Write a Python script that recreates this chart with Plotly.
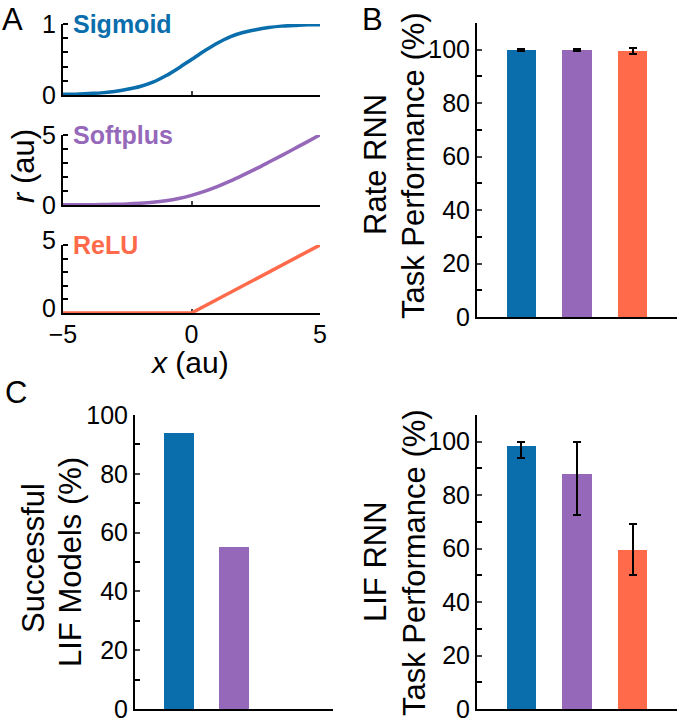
import plotly.graph_objects as go

# panel A: activation functions
x_act = [-5, -4.5, -4, -3.5, -3, -2.5, -2, -1.5, -1, -0.5, 0,
         0.5, 1, 1.5, 2, 2.5, 3, 3.5, 4, 4.5, 5]
sigmoid_r = [0.01, 0.01, 0.02, 0.03, 0.05, 0.08, 0.12, 0.18, 0.27, 0.38, 0.5,
             0.62, 0.73, 0.82, 0.88, 0.92, 0.95, 0.97, 0.98, 0.99, 0.99]
softplus_r = [0.01, 0.01, 0.02, 0.03, 0.05, 0.08, 0.13, 0.2, 0.31, 0.47, 0.69,
              0.97, 1.31, 1.7, 2.13, 2.58, 3.05, 3.53, 4.02, 4.51, 5.01]
relu_x = [-5, 0, 5]
relu_r = [0, 0, 5]

# panels B, C: bar data
models = ["Sigmoid", "Softplus", "ReLU"]
rate_perf = [99.9, 99.9, 99.5]
rate_err = [0.5, 0.5, 1.0]
lif_success = [94, 55, 0]
lif_perf = [98.5, 88.0, 59.6]
lif_err_up = [1.5, 12.0, 9.6]
lif_err_down = [4.6, 15.6, 9.4]

colors = ["#0A6EAC", "#9568BA", "#FF6A4A"]
FONT = "Arial, Liberation Sans, sans-serif"
W, H = 677, 726
TICK = 25
TITLE = 31


def dom_x(a, b):
    return [a / W, min(b / W, 1.0)]


def dom_y(top, bottom):
    return [1 - bottom / H, 1 - top / H]


fig = go.Figure()

line_panels = [
    ("", x_act, sigmoid_r, colors[0], "Sigmoid", [0, 1], (24, 95), "spline"),
    ("2", x_act, softplus_r, colors[1], "Softplus", [0, 5], (135, 205), "spline"),
    ("3", relu_x, relu_r, colors[2], "ReLU", [0, 5], (245, 313), "linear"),
]
for i, (ax, xs, ys, c, name, yr, (top, bot), shp) in enumerate(line_panels):
    fig.add_trace(go.Scatter(x=xs, y=ys, mode="lines", line=dict(color=c, width=3.5, shape=shp),
                             xaxis="x" + ax, yaxis="y" + ax, showlegend=False, cliponaxis=False))
    last = i == 2
    fig.update_layout(**{
        "xaxis" + ax: dict(domain=dom_x(63, 320), range=[-5, 5], anchor="y" + ax,
                           tickvals=[-5, 0, 5], ticks="inside", ticklen=4, tickwidth=2,
                           showticklabels=last, showline=True, linewidth=2, linecolor="black",
                           showgrid=False, zeroline=False, fixedrange=True, automargin=False,
                           layer="below traces", tickfont=dict(size=TICK), ticklabelstandoff=-2),
        "yaxis" + ax: dict(domain=dom_y(top, bot), range=yr, anchor="x" + ax,
                           tickvals=[yr[0], yr[1]], ticks="", showline=True, linewidth=2,
                           linecolor="black", showgrid=False, zeroline=False, automargin=False,
                           layer="below traces", tickfont=dict(size=TICK),
                           # lift the bottom panel's labels a little off the x tick labels
                           ticklabelshift=-5 if last else 0,
                           minor=dict(dtick=yr[1] / 5, ticks="inside", ticklen=5, tickwidth=2,
                                      tickcolor="black", showgrid=False)),
    })
    fig.add_annotation(xref="x" + ax + " domain", yref="y" + ax + " domain", x=0.03, y=1.0,
                       xanchor="left", yanchor="middle", text="<b>" + name + "</b>",
                       showarrow=False, font=dict(size=25, color=c, family=FONT))

bar_panels = [
    ("4", rate_perf, dict(type="data", array=rate_err, visible=True), [0, 110], dom_x(477, 677), dom_y(23, 317)),
    ("5", lif_success, None, [0, 100], dom_x(135, 333), dom_y(415, 709)),
    ("6", lif_perf, dict(type="data", array=lif_err_up, arrayminus=lif_err_down, visible=True),
     [0, 110], dom_x(477, 677), dom_y(415, 709)),
]
for ax, vals, err, yr, dx, dy in bar_panels:
    fig.add_trace(go.Bar(x=[1, 2, 3], y=vals, marker=dict(color=colors, line=dict(width=0)),
                         width=0.53, error_y=(dict(err, color="black", thickness=2, width=4) if err else None),
                         xaxis="x" + ax, yaxis="y" + ax, showlegend=False, hovertext=models))
    fig.update_layout(**{
        "xaxis" + ax: dict(domain=dx, range=[0.2, 3.8], anchor="y" + ax, showticklabels=False,
                           ticks="", showline=True, linewidth=2, linecolor="black",
                           showgrid=False, zeroline=False, automargin=False),
        "yaxis" + ax: dict(domain=dy, range=yr, anchor="x" + ax, tickvals=[0, 20, 40, 60, 80, 100],
                           ticks="inside", ticklen=5, tickwidth=2, showline=True, linewidth=2,
                           linecolor="black", showgrid=False, zeroline=False, automargin=False,
                           tickfont=dict(size=TICK),
                           minor=dict(dtick=10, ticks="inside", ticklen=5, tickwidth=2,
                                      tickcolor="black", showgrid=False)),
    })

# (text, x px, y px, angle, size, yanchor)
texts = [
    ("A", 12, 0, 0, TITLE, "top"), ("B", 372, 0, 0, TITLE, "top"), ("C", 16, 392, 0, TITLE, "middle"),
    ("<i>x</i> (au)", 190, 362, 0, 30, "middle"), ("<i>r</i> (au)", 24, 166, -90, TITLE, "middle"),
    ("Rate RNN", 375, 165, -90, TITLE, "middle"), ("Task Performance (%)", 414, 166, -90, TITLE, "middle"),
    ("Successful", 33, 558, -90, TITLE, "middle"), ("LIF Models (%)", 70, 562, -90, TITLE, "middle"),
    ("LIF RNN", 375, 562, -90, TITLE, "middle"), ("Task Performance (%)", 414, 563, -90, TITLE, "middle"),
]
for t, px, py, ang, sz, ya in texts:
    fig.add_annotation(xref="paper", yref="paper", x=px / W, y=1 - py / H, text=t, textangle=ang,
                       xanchor="center", yanchor=ya, showarrow=False,
                       font=dict(size=sz, color="black", family=FONT))

fig.update_layout(width=W, height=H, margin=dict(l=0, r=0, t=0, b=0, autoexpand=False),
                  paper_bgcolor="white", plot_bgcolor="white",
                  font=dict(family=FONT, size=TICK, color="black"), bargap=0)
# the page body has an 8px default margin; drop it so the figure fills the window
fig.write_html("out.html", config={"displayModeBar": False},
               post_script="document.body.style.margin='0';")
